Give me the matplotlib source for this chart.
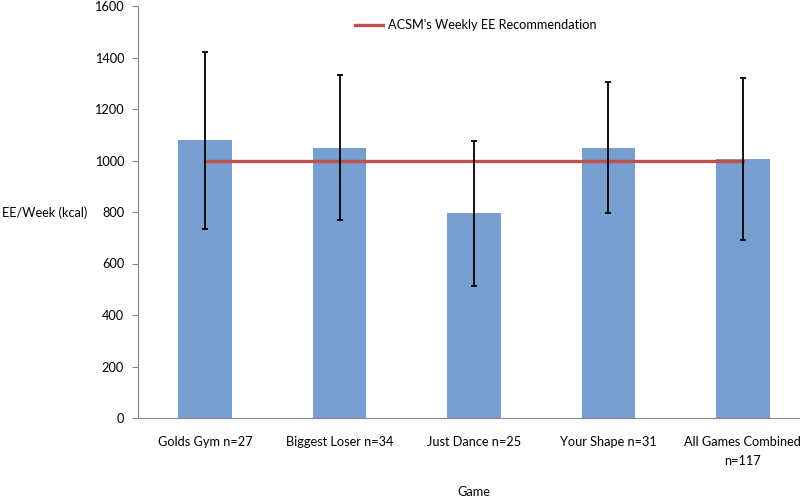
import matplotlib
matplotlib.use("Agg")
import matplotlib.pyplot as plt
import numpy as np

categories = ["Golds Gym n=27", "Biggest Loser n=34", "Just Dance n=25",
              "Your Shape n=31", "All Games Combined\nn=117"]
ee_week = [1078, 1050, 795, 1050, 1005]
sd = [343, 282, 282, 255, 315]
recommendation = [1000, 1000, 1000, 1000, 1000]
yticks = [0, 200, 400, 600, 800, 1000, 1200, 1400, 1600]

plt.rcParams['font.family'] = ['Lato', 'DejaVu Sans']
FS = 9.2

fig = plt.figure(figsize=(8.0, 5.01), dpi=100)
ax = fig.add_axes([138/800, 83/501, 672/800, 412/501])

x = np.arange(len(categories))
ax.bar(x, ee_week, width=0.4, color='#779ECF', zorder=1)
ax.errorbar(x, ee_week, yerr=sd, fmt='none', ecolor='black', elinewidth=1.3,
            capsize=2.5, capthick=1.3, zorder=3)
ax.plot(x, recommendation, color='#C0504D', linewidth=2.4, zorder=2,
        label="ACSM's Weekly EE Recommendation")

ax.set_xlim(-0.5, 4.5)
ax.set_ylim(0, 1600)
ax.set_yticks(yticks)
ax.set_xticks(x)
ax.set_xticklabels(categories, fontsize=FS, linespacing=1.7)
ax.tick_params(axis='x', length=0, pad=13)
ax.tick_params(axis='y', length=4, color='#868686', labelsize=FS, pad=6)
for s in ['top', 'right']:
    ax.spines[s].set_visible(False)
for s in ['left', 'bottom']:
    ax.spines[s].set_color('#868686')
    ax.spines[s].set_linewidth(0.8)

leg = ax.legend(loc='upper center', bbox_to_anchor=(476/800, 0.985),
                bbox_transform=fig.transFigure, frameon=False, fontsize=FS,
                handlelength=2.2, handletextpad=0.4)

fig.text(2/800, 1 - 213/501, "EE/Week (kcal)", ha='left', va='center', fontsize=FS)
fig.text(474/800, 1 - 492/501, "Game", ha='center', va='center', fontsize=FS)

fig.savefig("out.png", dpi=100)
